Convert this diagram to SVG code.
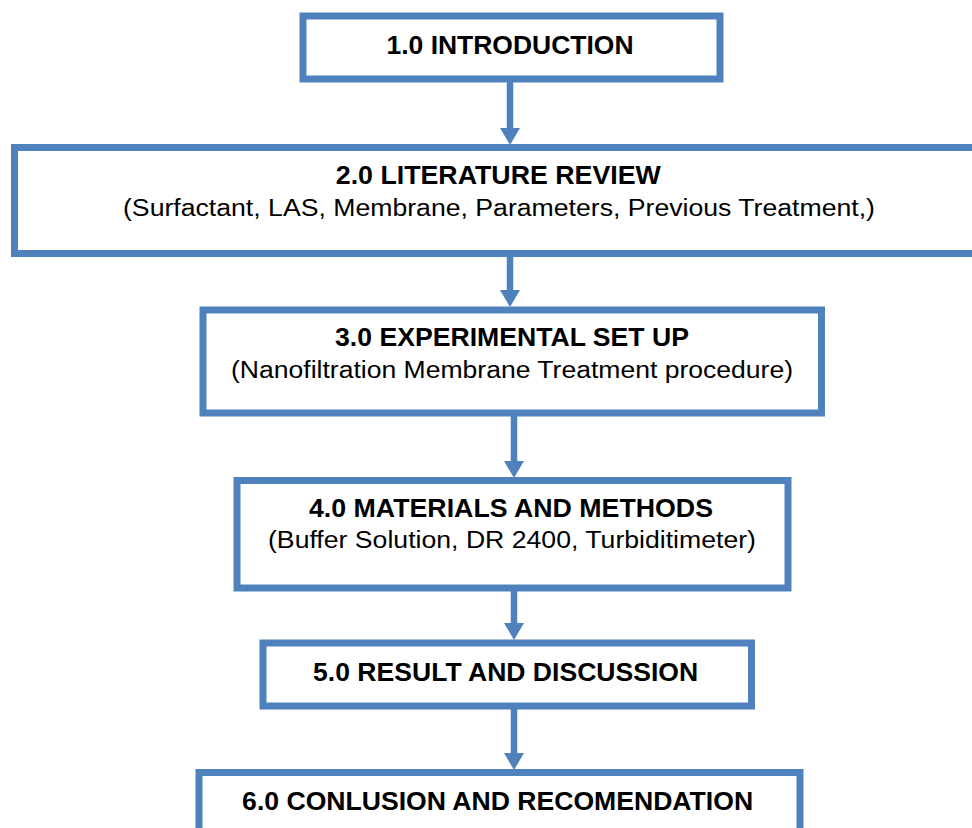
<svg xmlns="http://www.w3.org/2000/svg" width="972" height="828" viewBox="0 0 972 828">
  <style>
    .box { fill: #ffffff; stroke: #4F81BD; stroke-width: 7; }
    .conn { stroke: #4F81BD; stroke-width: 6.5; fill: none; }
    .t { font-family: "Liberation Sans", Arial, sans-serif; font-weight: bold; font-size: 25px; fill: #000; text-anchor: middle; }
    .s { font-family: "Liberation Sans", Arial, sans-serif; font-size: 23.5px; fill: #000; text-anchor: middle; }
  </style>
  <defs>
    <marker id="ah" markerUnits="userSpaceOnUse" markerWidth="17" markerHeight="20" viewBox="0 0 17 20" refX="9" refY="10" orient="auto">
      <path d="M0,0 L17,10 L0,20 Z" fill="#4F81BD"/>
    </marker>
  </defs>
  <rect width="972" height="828" fill="#ffffff"/>

  <g id="connectors">
    <line class="conn" x1="510" y1="82" x2="510" y2="137" marker-end="url(#ah)"/>
    <line class="conn" x1="510" y1="256" x2="510" y2="299" marker-end="url(#ah)"/>
    <line class="conn" x1="514" y1="416" x2="514" y2="470" marker-end="url(#ah)"/>
    <line class="conn" x1="514" y1="591" x2="514" y2="632" marker-end="url(#ah)"/>
    <line class="conn" x1="514" y1="708" x2="514" y2="762" marker-end="url(#ah)"/>
  </g>

  <g id="n1">
    <rect class="box" x="303" y="16" width="417" height="63"/>
    <text class="t" x="510" y="54" textLength="247" lengthAdjust="spacingAndGlyphs">1.0 INTRODUCTION</text>
  </g>
  <g id="n2">
    <rect class="box" x="14.5" y="147.5" width="970" height="106"/>
    <text class="t" x="498.3" y="184" textLength="325" lengthAdjust="spacingAndGlyphs">2.0 LITERATURE REVIEW</text>
    <text class="s" x="499" y="216" textLength="752" lengthAdjust="spacingAndGlyphs">(Surfactant, LAS, Membrane, Parameters, Previous Treatment,)</text>
  </g>
  <g id="n3">
    <rect class="box" x="203" y="310" width="618.5" height="103"/>
    <text class="t" x="512" y="346" textLength="354" lengthAdjust="spacingAndGlyphs">3.0 EXPERIMENTAL SET UP</text>
    <text class="s" x="512" y="377.5" textLength="562" lengthAdjust="spacingAndGlyphs">(Nanofiltration Membrane Treatment procedure)</text>
  </g>
  <g id="n4">
    <rect class="box" x="237" y="480.5" width="551" height="107.5"/>
    <text class="t" x="511" y="517" textLength="404" lengthAdjust="spacingAndGlyphs">4.0 MATERIALS AND METHODS</text>
    <text class="s" x="512" y="548" textLength="488" lengthAdjust="spacingAndGlyphs">(Buffer Solution, DR 2400, Turbiditimeter)</text>
  </g>
  <g id="n5">
    <rect class="box" x="263" y="643" width="488.5" height="63"/>
    <text class="t" x="505.6" y="681" textLength="385" lengthAdjust="spacingAndGlyphs">5.0 RESULT AND DISCUSSION</text>
  </g>
  <g id="n6">
    <rect class="box" x="199" y="772.5" width="601" height="100"/>
    <text class="t" x="497.6" y="810" textLength="511" lengthAdjust="spacingAndGlyphs">6.0 CONLUSION AND RECOMENDATION</text>
  </g>
</svg>
